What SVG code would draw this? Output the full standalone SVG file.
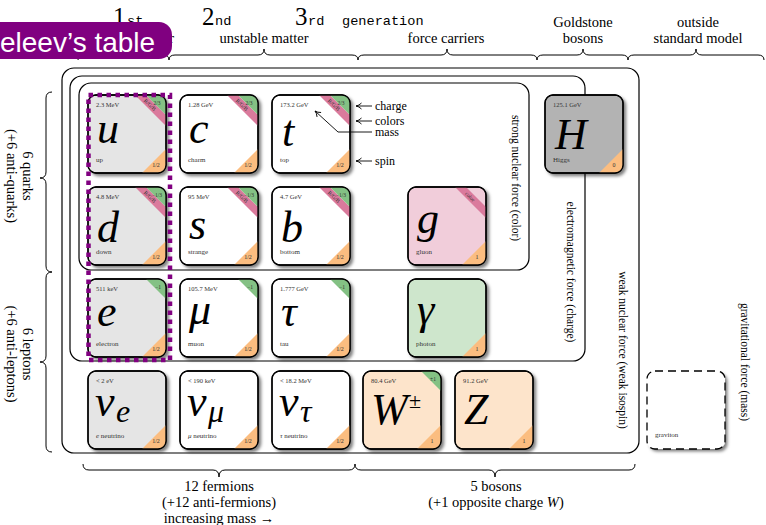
<svg xmlns="http://www.w3.org/2000/svg" width="766" height="525" viewBox="0 0 766 525">
<defs>
<style>
text{font-family:"Liberation Serif","DejaVu Serif",serif;fill:#000}
.frame{fill:none;stroke:#000;stroke-width:1.2}
.brace{fill:none;stroke:#000;stroke-width:1}
.card{stroke:#000;stroke-width:1.3}
.edge{fill:none;stroke:#000;stroke-width:1.3}
.w{fill:#fff}.g1{fill:#e5e5e5}.hig{fill:#b3b3b3}.glu{fill:#f1cdda}.pho{fill:#cee6cc}.wz{fill:#fde4cb}
.chg{fill:#84c184}.col{fill:#da7a9c}.spn{fill:#fbbd80}
.m{font-size:6.5px;fill:#333}
.n{font-size:7px;fill:#333}
.q{font-size:5.5px;text-anchor:middle;fill:#333}
.sp{font-size:6px;text-anchor:middle;fill:#333}
.sym{font-size:44px;font-style:italic}
.sub{font-size:32px;font-style:italic}
.lab{font-size:14.5px;text-anchor:middle}
.side{font-size:11.5px;text-anchor:middle}
.ann{font-size:12px}
.mono{font-family:"Liberation Mono","DejaVu Sans Mono",monospace;font-size:13.6px}
.big{font-size:25px}
.arr{fill:none;stroke:#000;stroke-width:0.9;marker-end:url(#ah)}
.dot{fill:none;stroke:#800080;stroke-width:4.5;stroke-dasharray:4.5 4.5}
</style>
<filter id="sh" x="-20%" y="-20%" width="150%" height="150%"><feDropShadow dx="2.5" dy="2.5" stdDeviation="1.8" flood-color="#000" flood-opacity="0.5"/></filter>
<clipPath id="cc"><rect width="78" height="78" rx="8"/></clipPath>
<marker id="ah" viewBox="0 0 8 8" refX="7" refY="4" markerWidth="8" markerHeight="8" orient="auto" markerUnits="userSpaceOnUse"><path d="M1.5 1 Q4 3.5 7 4 Q4 4.5 1.5 7" fill="none" stroke="#000" stroke-width="0.9"/></marker>
</defs>

<rect width="766" height="525" fill="#fff"/>

<!-- interaction frames -->
<g id="frames">
<rect class="frame" x="62" y="68" width="577" height="385" rx="12"/>
<rect class="frame" x="70" y="76" width="515" height="285" rx="12"/>
<rect class="frame" x="79" y="83" width="450" height="187" rx="12"/>
<text class="side" transform="translate(512,178) rotate(90)">strong nuclear force (color)</text>
<text class="side" transform="translate(567,272) rotate(90)">electromagnetic force (charge)</text>
<text class="side" transform="translate(619,350) rotate(90)">weak nuclear force (weak isospin)</text>
<text class="side" transform="translate(741,362) rotate(90)">gravitational force (mass)</text>
</g>

<!-- header -->
<g id="header">
<text class="big" x="113" y="25">1</text><text class="mono" x="127" y="25">st</text>
<text class="big" x="202" y="25">2</text><text class="mono" x="215" y="25">nd</text>
<text class="big" x="295" y="25">3</text><text class="mono" x="308" y="25">rd</text>
<text class="mono" x="342" y="25">generation</text>
<text class="lab" x="174" y="43" style="text-anchor:end">stable matter</text>
<text class="lab" x="264" y="43">unstable matter</text>
<text class="lab" x="446" y="43">force carriers</text>
<text class="lab" x="583" y="27">Goldstone</text>
<text class="lab" x="583" y="43">bosons</text>
<text class="lab" x="698" y="27">outside</text>
<text class="lab" x="698" y="43">standard model</text>
<path class="brace" d="M78 60Q78 55 84 55L118 55Q124 55 124 49Q124 55 130 55L163 55Q169 55 169 60"/>
<path class="brace" d="M169 60Q169 55 175 55L258 55Q264 55 264 49Q264 55 270 55L352 55Q358 55 358 60"/>
<path class="brace" d="M358 60Q358 55 364 55L441 55Q447 55 447 49Q447 55 453 55L531 55Q537 55 537 60"/>
<path class="brace" d="M537 60Q537 55 543 55L577 55Q583 55 583 49Q583 55 589 55L622 55Q628 55 628 60"/>
<path class="brace" d="M628 60Q628 55 634 55L690 55Q696 55 696 49Q696 55 702 55L758 55Q764 55 764 60"/>
</g>

<!-- title tab -->
<g id="tab">
<rect x="-20" y="22" width="192" height="37" rx="13" fill="#800080"/>
<text x="0" y="52" style="font-family:'Liberation Sans',Arial,sans-serif;font-size:28px;fill:#fff">eleev’s table</text>
</g>

<!-- side and bottom groupings -->
<g id="groups">
<path class="brace" d="M52 92Q46 92 46 98L46 172Q46 178 40 178Q46 178 46 184L46 266Q46 272 52 272"/>
<path class="brace" d="M52 272Q46 272 46 278L46 356Q46 362 40 362Q46 362 46 368L46 446Q46 452 52 452"/>
<text class="lab" transform="translate(23,176) rotate(90)">6 quarks</text>
<text class="lab" transform="translate(7,176) rotate(90)">(+6 anti-quarks)</text>
<text class="lab" transform="translate(23,354) rotate(90)">6 leptons</text>
<text class="lab" transform="translate(7,354) rotate(90)">(+6 anti-leptons)</text>
<path class="brace" d="M83 464Q83 470 89 470L213 470Q219 470 219 477Q219 470 225 470L349 470Q355 470 355 464"/>
<path class="brace" d="M355 464Q355 470 361 470L489 470Q495 470 495 477Q495 470 501 470L629 470Q635 470 635 464"/>
<text class="lab" x="219" y="491">12 fermions</text>
<text class="lab" x="219" y="507">(+12 anti-fermions)</text>
<text class="lab" x="219" y="523">increasing mass →</text>
<text class="lab" x="496" y="491">5 bosons</text>
<text class="lab" x="496" y="507">(+1 opposite charge <tspan font-style="italic">W</tspan>)</text>
</g>

<!-- quarks -->
<g id="u" transform="translate(88,95)">
<rect class="card g1" width="78" height="78" rx="8" filter="url(#sh)"/>
<g clip-path="url(#cc)"><path class="col" d="M47 0H58L78 20V31Z"/><path class="chg" d="M58 0H78V20Z"/><path class="spn" d="M54 78L78 54V78Z"/></g>
<rect class="edge" width="78" height="78" rx="8"/>
<text class="m" x="8" y="12">2.3 MeV</text>
<text class="q" x="69" y="9.5">2/3</text>
<text class="q" transform="translate(60.7,11) rotate(45)">R/G/B</text>
<text class="sym" x="9" y="48">u</text>
<text class="n" x="8" y="67">up</text>
<text class="sp" x="68" y="71.5">1/2</text>
</g>
<g id="c" transform="translate(180,95)">
<rect class="card w" width="78" height="78" rx="8" filter="url(#sh)"/>
<g clip-path="url(#cc)"><path class="col" d="M47 0H58L78 20V31Z"/><path class="chg" d="M58 0H78V20Z"/><path class="spn" d="M54 78L78 54V78Z"/></g>
<rect class="edge" width="78" height="78" rx="8"/>
<text class="m" x="8" y="12">1.28 GeV</text>
<text class="q" x="69" y="9.5">2/3</text>
<text class="q" transform="translate(60.7,11) rotate(45)">R/G/B</text>
<text class="sym" x="9" y="48">c</text>
<text class="n" x="8" y="67">charm</text>
<text class="sp" x="68" y="71.5">1/2</text>
</g>
<g id="t" transform="translate(272,95)">
<rect class="card w" width="78" height="78" rx="8" filter="url(#sh)"/>
<g clip-path="url(#cc)"><path class="col" d="M47 0H58L78 20V31Z"/><path class="chg" d="M58 0H78V20Z"/><path class="spn" d="M54 78L78 54V78Z"/></g>
<rect class="edge" width="78" height="78" rx="8"/>
<text class="m" x="8" y="12">173.2 GeV</text>
<text class="q" x="69" y="9.5">2/3</text>
<text class="q" transform="translate(60.7,11) rotate(45)">R/G/B</text>
<text class="sym" x="10" y="51">t</text>
<text class="n" x="8" y="67">top</text>
<text class="sp" x="68" y="71.5">1/2</text>
</g>
<g id="d" transform="translate(88,187)">
<rect class="card g1" width="78" height="78" rx="8" filter="url(#sh)"/>
<g clip-path="url(#cc)"><path class="col" d="M47 0H58L78 20V31Z"/><path class="chg" d="M58 0H78V20Z"/><path class="spn" d="M54 78L78 54V78Z"/></g>
<rect class="edge" width="78" height="78" rx="8"/>
<text class="m" x="8" y="12">4.8 MeV</text>
<text class="q" x="69" y="9.5">−1/3</text>
<text class="q" transform="translate(60.7,11) rotate(45)">R/G/B</text>
<text class="sym" x="9" y="55">d</text>
<text class="n" x="8" y="67">down</text>
<text class="sp" x="68" y="71.5">1/2</text>
</g>
<g id="s" transform="translate(180,187)">
<rect class="card w" width="78" height="78" rx="8" filter="url(#sh)"/>
<g clip-path="url(#cc)"><path class="col" d="M47 0H58L78 20V31Z"/><path class="chg" d="M58 0H78V20Z"/><path class="spn" d="M54 78L78 54V78Z"/></g>
<rect class="edge" width="78" height="78" rx="8"/>
<text class="m" x="8" y="12">95 MeV</text>
<text class="q" x="69" y="9.5">−1/3</text>
<text class="q" transform="translate(60.7,11) rotate(45)">R/G/B</text>
<text class="sym" x="9" y="52">s</text>
<text class="n" x="8" y="67">strange</text>
<text class="sp" x="68" y="71.5">1/2</text>
</g>
<g id="b" transform="translate(272,187)">
<rect class="card w" width="78" height="78" rx="8" filter="url(#sh)"/>
<g clip-path="url(#cc)"><path class="col" d="M47 0H58L78 20V31Z"/><path class="chg" d="M58 0H78V20Z"/><path class="spn" d="M54 78L78 54V78Z"/></g>
<rect class="edge" width="78" height="78" rx="8"/>
<text class="m" x="8" y="12">4.7 GeV</text>
<text class="q" x="69" y="9.5">−1/3</text>
<text class="q" transform="translate(60.7,11) rotate(45)">R/G/B</text>
<text class="sym" x="9" y="55">b</text>
<text class="n" x="8" y="67">bottom</text>
<text class="sp" x="68" y="71.5">1/2</text>
</g>

<!-- leptons -->
<g id="e" transform="translate(88,279)">
<rect class="card g1" width="78" height="78" rx="8" filter="url(#sh)"/>
<g clip-path="url(#cc)"><path class="chg" d="M58 0H78V20Z"/><path class="spn" d="M54 78L78 54V78Z"/></g>
<rect class="edge" width="78" height="78" rx="8"/>
<text class="m" x="8" y="12">511 keV</text>
<text class="q" x="70" y="9.5">−1</text>
<text class="sym" x="9" y="47">e</text>
<text class="n" x="8" y="67">electron</text>
<text class="sp" x="68" y="71.5">1/2</text>
</g>
<g id="mu" transform="translate(180,279)">
<rect class="card w" width="78" height="78" rx="8" filter="url(#sh)"/>
<g clip-path="url(#cc)"><path class="chg" d="M58 0H78V20Z"/><path class="spn" d="M54 78L78 54V78Z"/></g>
<rect class="edge" width="78" height="78" rx="8"/>
<text class="m" x="8" y="12">105.7 MeV</text>
<text class="q" x="70" y="9.5">−1</text>
<text class="sym" x="9" y="45">μ</text>
<text class="n" x="8" y="67">muon</text>
<text class="sp" x="68" y="71.5">1/2</text>
</g>
<g id="tau" transform="translate(272,279)">
<rect class="card w" width="78" height="78" rx="8" filter="url(#sh)"/>
<g clip-path="url(#cc)"><path class="chg" d="M58 0H78V20Z"/><path class="spn" d="M54 78L78 54V78Z"/></g>
<rect class="edge" width="78" height="78" rx="8"/>
<text class="m" x="8" y="12">1.777 GeV</text>
<text class="q" x="70" y="9.5">−1</text>
<text class="sym" x="9" y="47">τ</text>
<text class="n" x="8" y="67">tau</text>
<text class="sp" x="68" y="71.5">1/2</text>
</g>
<g id="nu_e" transform="translate(88,371)">
<rect class="card g1" width="78" height="78" rx="8" filter="url(#sh)"/>
<g clip-path="url(#cc)"><path class="spn" d="M54 78L78 54V78Z"/></g>
<rect class="edge" width="78" height="78" rx="8"/>
<text class="m" x="8" y="12">&lt; 2 eV</text>
<text class="sym" x="7" y="45">ν</text><text class="sub" x="28" y="51">e</text>
<text class="n" x="8" y="67"><tspan font-style="italic">e</tspan> neutrino</text>
<text class="sp" x="68" y="71.5">1/2</text>
</g>
<g id="nu_mu" transform="translate(180,371)">
<rect class="card w" width="78" height="78" rx="8" filter="url(#sh)"/>
<g clip-path="url(#cc)"><path class="spn" d="M54 78L78 54V78Z"/></g>
<rect class="edge" width="78" height="78" rx="8"/>
<text class="m" x="8" y="12">&lt; 190 keV</text>
<text class="sym" x="7" y="45">ν</text><text class="sub" x="28" y="51">μ</text>
<text class="n" x="8" y="67"><tspan font-style="italic">μ</tspan> neutrino</text>
<text class="sp" x="68" y="71.5">1/2</text>
</g>
<g id="nu_tau" transform="translate(272,371)">
<rect class="card w" width="78" height="78" rx="8" filter="url(#sh)"/>
<g clip-path="url(#cc)"><path class="spn" d="M54 78L78 54V78Z"/></g>
<rect class="edge" width="78" height="78" rx="8"/>
<text class="m" x="8" y="12">&lt; 18.2 MeV</text>
<text class="sym" x="7" y="45">ν</text><text class="sub" x="28" y="51">τ</text>
<text class="n" x="8" y="67"><tspan font-style="italic">τ</tspan> neutrino</text>
<text class="sp" x="68" y="71.5">1/2</text>
</g>

<!-- gauge bosons -->
<g id="g" transform="translate(408,187)">
<rect class="card glu" width="78" height="78" rx="8" filter="url(#sh)"/>
<g clip-path="url(#cc)"><path class="col" d="M47 0H58L78 20V31Z"/><path class="spn" d="M54 78L78 54V78Z"/></g>
<rect class="edge" width="78" height="78" rx="8"/>
<text class="q" transform="translate(60.7,11) rotate(45)">color</text>
<text class="sym" x="9" y="46">g</text>
<text class="n" x="8" y="67">gluon</text>
<text class="sp" x="69" y="71.5">1</text>
</g>
<g id="photon" transform="translate(408,279)">
<rect class="card pho" width="78" height="78" rx="8" filter="url(#sh)"/>
<g clip-path="url(#cc)"><path class="spn" d="M54 78L78 54V78Z"/></g>
<rect class="edge" width="78" height="78" rx="8"/>
<text class="sym" x="9" y="45">γ</text>
<text class="n" x="8" y="67">photon</text>
<text class="sp" x="69" y="71.5">1</text>
</g>
<g id="W" transform="translate(363,371)">
<rect class="card wz" width="78" height="78" rx="8" filter="url(#sh)"/>
<g clip-path="url(#cc)"><path class="chg" d="M58 0H78V20Z"/><path class="spn" d="M54 78L78 54V78Z"/></g>
<rect class="edge" width="78" height="78" rx="8"/>
<text class="m" x="8" y="12">80.4 GeV</text>
<text class="q" x="70" y="9.5">±1</text>
<text class="sym" x="8" y="53">W</text><text x="46" y="37" style="font-size:22px">±</text>
<text class="sp" x="69" y="71.5">1</text>
</g>
<g id="Z" transform="translate(455,371)">
<rect class="card wz" width="78" height="78" rx="8" filter="url(#sh)"/>
<g clip-path="url(#cc)"><path class="spn" d="M54 78L78 54V78Z"/></g>
<rect class="edge" width="78" height="78" rx="8"/>
<text class="m" x="8" y="12">91.2 GeV</text>
<text class="sym" x="9" y="53">Z</text>
<text class="sp" x="69" y="71.5">1</text>
</g>
<g id="H" transform="translate(545,95)">
<rect class="card hig" width="78" height="78" rx="8" filter="url(#sh)"/>
<g clip-path="url(#cc)"><path class="spn" d="M54 78L78 54V78Z"/></g>
<rect class="edge" width="78" height="78" rx="8"/>
<text class="m" x="8" y="12">125.1 GeV</text>
<text class="sym" x="10" y="54">H</text>
<text class="n" x="8" y="67">Higgs</text>
<text class="sp" x="69" y="71.5">0</text>
</g>
<g id="graviton" transform="translate(647,371)">
<rect width="78" height="78" rx="8" fill="#fff" filter="url(#sh)"/>
<rect width="78" height="78" rx="8" fill="none" stroke="#000" stroke-width="1.3" stroke-dasharray="8 5"/>
<text class="n" x="8" y="66">graviton</text>
</g>

<!-- first generation highlight -->
<rect id="gen1" class="dot" x="88.5" y="95" width="81.5" height="265"/>

<!-- legend pointers -->
<g id="connectors">
<path class="arr" d="M372 106H356"/>
<path class="arr" d="M372 121H356"/>
<path class="arr" d="M372 132H338L315 111"/>
<path class="arr" d="M372 161H356"/>
</g>
<g id="legend">
<text class="ann" x="375" y="109.5">charge</text>
<text class="ann" x="375" y="125">colors</text>
<text class="ann" x="375" y="136">mass</text>
<text class="ann" x="375" y="164.5">spin</text>
</g>
</svg>
